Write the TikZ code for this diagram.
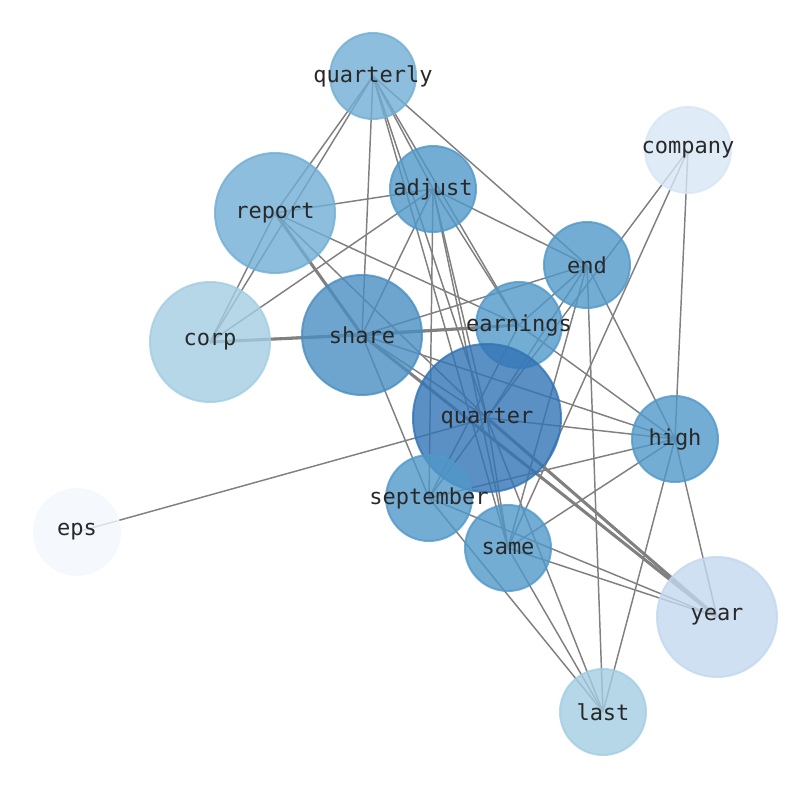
\documentclass[tikz,border=0pt]{standalone}
\usepackage{fontspec}
\setmonofont{DejaVu Sans Mono}
\usepackage{tikz}
\usetikzlibrary{positioning, calc}
\pgfdeclarelayer{edges}
\pgfsetlayers{edges,main}

\definecolor{b9}{RGB}{49,116,181}
\definecolor{b8}{RGB}{74,142,194}
\definecolor{b7}{RGB}{81,152,201}
\definecolor{b6}{RGB}{113,174,212}
\definecolor{b5}{RGB}{163,205,226}
\definecolor{b4}{RGB}{194,216,238}
\definecolor{b3}{RGB}{215,230,244}
\definecolor{b2}{RGB}{243,248,254}
\definecolor{edgegray}{RGB}{128,128,128}
\definecolor{labelc}{RGB}{40,40,40}

\begin{document}
\begin{tikzpicture}[x=0.75pt, y=-0.75pt, every label/.style={text=labelc, inner sep=0pt, font=\ttfamily\fontsize{16.5}{18}\selectfont}]
	\tikzstyle{wordc}=[circle, line width=1.5pt, fill opacity=0.8, draw opacity=0.8, inner sep=0pt]
	\tikzstyle{small}=[wordc, minimum size=64.5pt]
	\tikzstyle{mid}=[wordc, minimum size=90pt]
	\tikzstyle{big}=[wordc, minimum size=111pt]
	\tikzstyle{link}=[draw=edgegray, line width=1.1pt]
	\tikzstyle{heavy}=[draw=edgegray, line width=2.3pt]
	
	\useasboundingbox (0,0) rectangle (794,790);
	
	\node (quarterly) at (373,76) [small, fill=b6, draw=b6, label=center:quarterly] {};
	\node (company) at (688,150) [small, fill=b3, draw=b3, label=center:company] {};
	\node (adjust) at (433,189) [small, fill=b7, draw=b7, label=center:adjust] {};
	\node (report) at (275,213) [mid, fill=b6, draw=b6, label=center:report] {};
	\node (end) at (587,265) [small, fill=b7, draw=b7, label=center:end] {};
	\node (corp) at (210,342) [mid, fill=b5, draw=b5, label=center:corp] {};
	\node (share) at (362,335) [mid, fill=b8, draw=b8, label=center:share] {};
	\node (earnings) at (519,325) [small, fill=b7, draw=b7, label=center:earnings] {};
	\node (quarter) at (487,418) [big, fill=b9, draw=b9, label=center:quarter] {};
	\node (high) at (675,439) [small, fill=b7, draw=b7, label=center:high] {};
	\node (september) at (429,498) [small, fill=b7, draw=b7, label=center:september] {};
	\node (same) at (508,548) [small, fill=b7, draw=b7, label=center:same] {};
	\node (eps) at (77,532) [small, fill=b2, draw=b2, label=center:eps] {};
	\node (year) at (717,617) [mid, fill=b4, draw=b4, label=center:year] {};
	\node (last) at (603,712) [small, fill=b5, draw=b5, label=center:last] {};
	
	\begin{pgfonlayer}{edges}
	\draw[link] (quarterly.center) -- (report.center);
	\draw[link] (quarterly.center) -- (corp.center);
	\draw[link] (quarterly.center) -- (share.center);
	\draw[link] (quarterly.center) -- (quarter.center);
	\draw[link] (quarterly.center) -- (earnings.center);
	\draw[link] (quarterly.center) -- (end.center);
	\draw[link] (quarterly.center) -- (adjust.center);
	\draw[link] (quarterly.center) -- (same.center);
	
	\draw[link] (report.center) -- (corp.center);
	\draw[link] (report.center) -- (adjust.center);
	\draw[heavy] (report.center) -- (share.center);
	\draw[link] (report.center) -- (earnings.center);
	\draw[link] (report.center) -- (quarter.center);
	
	\draw[link] (adjust.center) -- (corp.center);
	\draw[link] (adjust.center) -- (share.center);
	\draw[link] (adjust.center) -- (september.center);
	\draw[link] (adjust.center) -- (quarter.center);
	\draw[link] (adjust.center) -- (same.center);
	\draw[link] (adjust.center) -- (end.center);
	\draw[link] (adjust.center) -- (earnings.center);
	
	\draw[heavy] (corp.center) -- (share.center);
	\draw[link] (corp.center) -- (earnings.center);
	
	\draw[heavy] (share.center) -- (earnings.center);
	\draw[link] (share.center) -- (end.center);
	\draw[link] (share.center) -- (quarter.center);
	\draw[link] (share.center) -- (high.center);
	\draw[heavy] (share.center) -- (year.center);
	\draw[link] (share.center) -- (september.center);
	
	\draw[link] (end.center) -- (earnings.center);
	\draw[link] (end.center) -- (quarter.center);
	\draw[link] (end.center) -- (same.center);
	\draw[link] (end.center) -- (last.center);
	\draw[link] (end.center) -- (high.center);
	
	\draw[link] (company.center) -- (quarter.center);
	\draw[link] (company.center) -- (same.center);
	\draw[link] (company.center) -- (high.center);
	
	\draw[link] (earnings.center) -- (high.center);
	\draw[link] (earnings.center) -- (september.center);
	
	\draw[link] (quarter.center) -- (eps.center);
	\draw[link] (quarter.center) -- (high.center);
	\draw[heavy] (quarter.center) -- (year.center);
	\draw[link] (quarter.center) -- (september.center);
	\draw[link] (quarter.center) -- (same.center);
	\draw[link] (quarter.center) -- (last.center);
	
	\draw[link] (high.center) -- (september.center);
	\draw[link] (high.center) -- (same.center);
	\draw[link] (high.center) -- (last.center);
	\draw[link] (high.center) -- (year.center);
	
	\draw[link] (september.center) -- (year.center);
	\draw[link] (september.center) -- (last.center);
	\draw[link] (same.center) -- (year.center);
	\draw[link] (same.center) -- (last.center);
	\end{pgfonlayer}
\end{tikzpicture}
\end{document}
